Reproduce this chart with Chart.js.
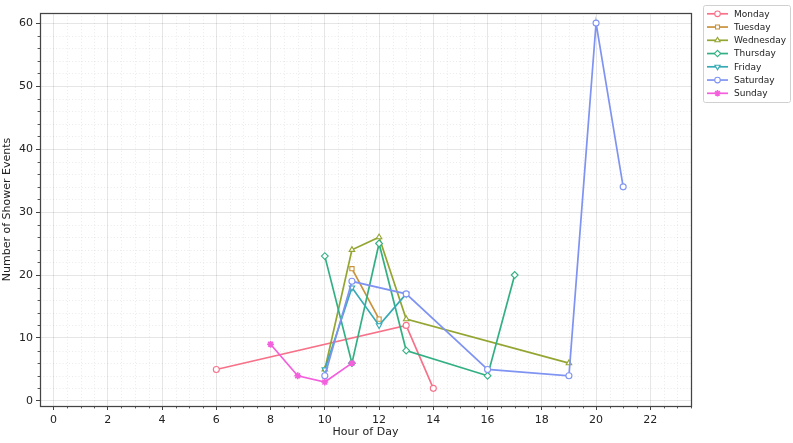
<!DOCTYPE html>
<html>
<head>
<meta charset="utf-8">
<script src="https://cdn.jsdelivr.net/npm/chart.js@4/dist/chart.umd.min.js"></script>
<style>
  html, body { margin: 0; padding: 0; background: #fff; }
  #wrap { width: 793px; height: 443px; position: relative; }
</style>
</head>
<body>
<div id="wrap"><canvas id="c" width="793" height="443"></canvas></div>
<script>
// ---- Data ----
const dayNames = ["Monday", "Tuesday", "Wednesday", "Thursday", "Friday", "Saturday", "Sunday"];

const mondayHours = [6, 13, 14];
const mondayCounts = [5, 12, 2];

const tuesdayHours = [11, 12];
const tuesdayCounts = [21, 13];

const wednesdayHours = [10, 11, 12, 13, 19];
const wednesdayCounts = [5, 24, 26, 13, 6];

const thursdayHours = [10, 11, 12, 13, 16, 17];
const thursdayCounts = [23, 6, 25, 8, 4, 20];

const fridayHours = [10, 11, 12, 13];
const fridayCounts = [5, 18, 12, 17];

const saturdayHours = [10, 11, 13, 16, 19, 20, 21];
const saturdayCounts = [4, 19, 17, 5, 4, 60, 34];

const sundayHours = [8, 9, 10, 11];
const sundayCounts = [9, 4, 3, 6];

const xTickLabels = [0, 2, 4, 6, 8, 10, 12, 14, 16, 18, 20, 22];
const yTickLabels = [0, 10, 20, 30, 40, 50, 60];

// ---- Styling ----
const colors = ["#f77189", "#c9923a", "#95a532", "#33b083", "#37aab5", "#7f93f2", "#f35fdc"];
const markers = ["circle", "rect", "triangle", "rectRot", "triangle", "circle", "star"];
const rotations = [0, 0, 0, 0, 180, 0, 0];
const radii = [3, 3, 3.2, 3.4, 3.2, 3, 3.4];

const hoursList = [mondayHours, tuesdayHours, wednesdayHours, thursdayHours, fridayHours, saturdayHours, sundayHours];
const countsList = [mondayCounts, tuesdayCounts, wednesdayCounts, thursdayCounts, fridayCounts, saturdayCounts, sundayCounts];

const datasets = dayNames.map((name, i) => ({
  label: name,
  data: hoursList[i].map((h, k) => ({ x: h, y: countsList[i][k] })),
  borderColor: colors[i],
  backgroundColor: i === 6 ? colors[i] : "#ffffff",
  pointBackgroundColor: i === 6 ? colors[i] : "#ffffff",
  pointBorderColor: colors[i],
  pointStyle: markers[i],
  pointRotation: rotations[i],
  pointRadius: radii[i],
  pointBorderWidth: i === 6 ? 1.6 : 1.1,
  borderWidth: 1.7,
  tension: 0,
  order: 7 - i
}));

const FONT = "'DejaVu Sans', sans-serif";
const AXIS_COLOR = "#444";

// Minor grid, minor ticks, frame and legend
const decorPlugin = {
  id: "decor",
  beforeDatasetsDraw(chart) {
    const { ctx, chartArea: a, scales } = chart;
    const xs = scales.x, ys = scales.y;
    ctx.save();
    ctx.strokeStyle = "rgba(0,0,0,0.09)";
    ctx.lineWidth = 0.8;
    ctx.setLineDash([1.2, 2]);
    for (let v = 0; v <= 23.5; v += 0.5) {
      if (v % 2 === 0) continue;
      const px = Math.round(xs.getPixelForValue(v)) + 0.5;
      ctx.beginPath(); ctx.moveTo(px, a.top); ctx.lineTo(px, a.bottom); ctx.stroke();
    }
    for (let v = 0; v <= 61; v += 2) {
      if (v % 10 === 0) continue;
      const py = Math.round(ys.getPixelForValue(v)) + 0.5;
      ctx.beginPath(); ctx.moveTo(a.left, py); ctx.lineTo(a.right, py); ctx.stroke();
    }
    ctx.restore();
  },
  afterDraw(chart) {
    const { ctx, chartArea: a, scales } = chart;
    const xs = scales.x, ys = scales.y;
    ctx.save();
    ctx.strokeStyle = AXIS_COLOR;
    ctx.lineWidth = 0.9;
    for (let v = 0; v <= 23.5; v += 0.5) {
      if (v % 2 === 0) continue;
      const px = Math.round(xs.getPixelForValue(v)) + 0.5;
      ctx.beginPath(); ctx.moveTo(px, a.bottom); ctx.lineTo(px, a.bottom + 2.4); ctx.stroke();
    }
    for (let v = 0; v <= 61; v += 2) {
      if (v % 10 === 0) continue;
      const py = Math.round(ys.getPixelForValue(v)) + 0.5;
      ctx.beginPath(); ctx.moveTo(a.left, py); ctx.lineTo(a.left - 2.4, py); ctx.stroke();
    }
    // frame
    ctx.strokeStyle = AXIS_COLOR;
    ctx.lineWidth = 1.25;
    ctx.strokeRect(Math.round(a.left) + 0.5, Math.round(a.top) + 0.5,
                   Math.round(a.right - a.left), Math.round(a.bottom - a.top));

    // legend
    const bx = 703.5, by = 5.5, bw = 87, bh = 97;
    ctx.fillStyle = "rgba(255,255,255,0.85)";
    ctx.strokeStyle = "#d0d0d0";
    ctx.lineWidth = 1;
    ctx.beginPath();
    if (ctx.roundRect) ctx.roundRect(bx, by, bw, bh, 2); else ctx.rect(bx, by, bw, bh);
    ctx.fill(); ctx.stroke();
    ctx.font = "9px " + FONT;
    ctx.textBaseline = "middle";
    ctx.textAlign = "left";
    dayNames.forEach((name, i) => {
      const y = 13.8 + i * 13.25;
      ctx.strokeStyle = colors[i];
      ctx.lineWidth = 1.7;
      ctx.setLineDash([]);
      ctx.beginPath(); ctx.moveTo(707, y); ctx.lineTo(728, y); ctx.stroke();
      ctx.fillStyle = i === 6 ? colors[i] : "#ffffff";
      ctx.strokeStyle = colors[i];
      ctx.lineWidth = i === 6 ? 1.5 : 1.1;
      Chart.helpers.drawPoint(ctx, { pointStyle: markers[i], radius: radii[i] - 0.2, rotation: rotations[i], borderWidth: ctx.lineWidth }, 717.5, y);
      ctx.fillStyle = "#222";
      ctx.fillText(name, 734, y + 0.5);
    });
    ctx.restore();
  }
};

new Chart(document.getElementById("c"), {
  type: "line",
  data: { datasets },
  plugins: [decorPlugin],
  options: {
    responsive: false,
    animation: false,
    devicePixelRatio: 1,
    layout: { padding: { top: 13, right: 102, left: 0, bottom: 0 } },
    plugins: { legend: { display: false }, tooltip: { enabled: false } },
    scales: {
      x: {
        type: "linear",
        min: -0.5,
        max: 23.5,
        afterFit(s) { s.height = 37; },
        afterBuildTicks(s) { s.ticks = xTickLabels.map(v => ({ value: v })); },
        border: { display: false },
        grid: { color: "rgba(0,0,0,0.11)", lineWidth: 0.9, tickColor: AXIS_COLOR, tickLength: 4, tickWidth: 1 },
        ticks: { color: "#222", font: { family: FONT, size: 11 }, padding: 4, maxRotation: 0, autoSkip: false },
        title: { display: true, text: "Hour of Day", color: "#222", font: { family: FONT, size: 11 }, padding: { top: 0, bottom: 4 } }
      },
      y: {
        type: "linear",
        min: -0.8,
        max: 61.6,
        afterFit(s) { s.width = 40; },
        afterBuildTicks(s) { s.ticks = yTickLabels.map(v => ({ value: v })); },
        border: { display: false },
        grid: { color: "rgba(0,0,0,0.11)", lineWidth: 0.9, tickColor: AXIS_COLOR, tickLength: 4, tickWidth: 1 },
        ticks: { color: "#222", font: { family: FONT, size: 11 }, padding: 3, autoSkip: false },
        title: { display: true, text: "Number of Shower Events", color: "#222", font: { family: FONT, size: 11 }, padding: { top: 1, bottom: 2 } }
      }
    }
  }
});
</script>
</body>
</html>
